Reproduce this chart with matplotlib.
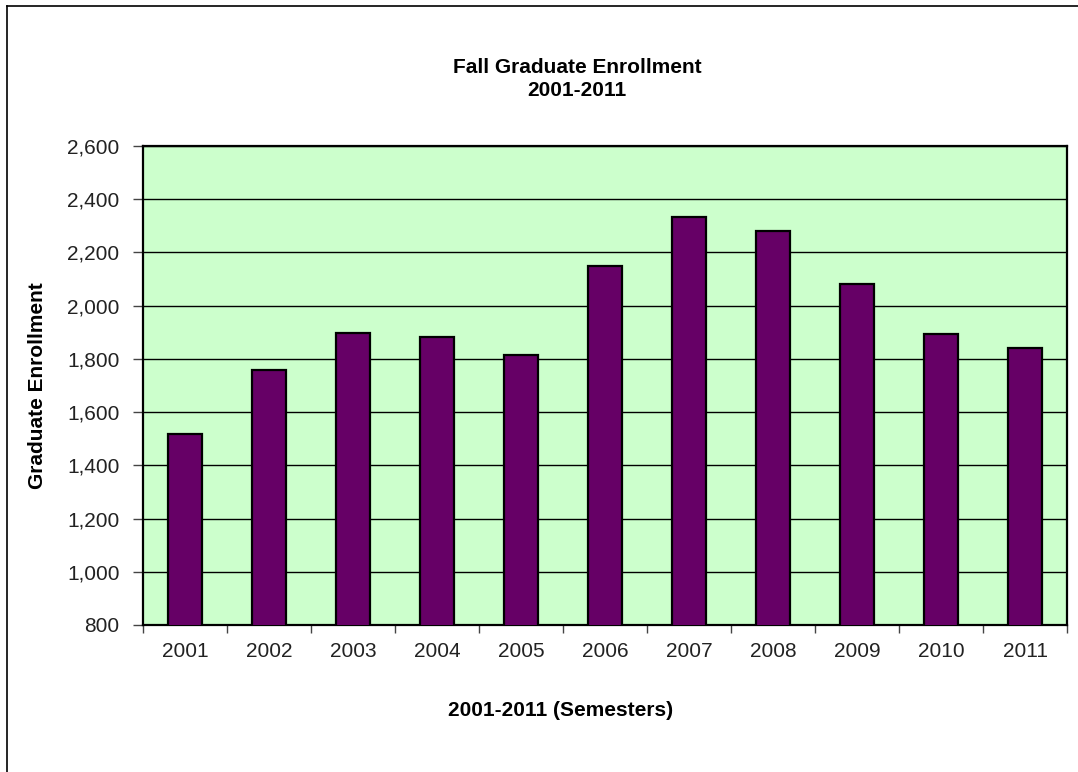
import matplotlib
matplotlib.use('Agg')
import matplotlib.pyplot as plt
from matplotlib.lines import Line2D
import numpy as np

plt.rcParams['font.family'] = ['Liberation Sans', 'DejaVu Sans']

# data
years = ['2001', '2002', '2003', '2004', '2005', '2006',
         '2007', '2008', '2009', '2010', '2011']
enrollment = [1518, 1760, 1899, 1884, 1816, 2150, 2335, 2279, 2083, 1894, 1841]
y_ticks = [800, 1000, 1200, 1400, 1600, 1800, 2000, 2200, 2400, 2600]

fs = 15

fig = plt.figure(figsize=(10.78, 7.72), dpi=100)
ax = fig.add_axes([143 / 1078, 1 - 625 / 772, 924 / 1078, 479 / 772])
ax.set_facecolor('#CCFFCC')

x = np.arange(len(years))
ax.bar(x, enrollment, width=0.4, color='#660066', edgecolor='black',
       linewidth=1.6, zorder=3)

ax.set_xlim(-0.5, len(years) - 0.5)
ax.set_ylim(800, 2600)
ax.set_yticks(y_ticks)
ax.set_yticklabels([f'{v:,}' for v in y_ticks])
ax.yaxis.grid(True, color='black', linewidth=1.0, zorder=1)
ax.set_axisbelow(True)

# ticks between categories, labels at centers
ax.set_xticks(np.arange(len(years) + 1) - 0.5)
ax.set_xticklabels([])
ax.set_xticks(x, minor=True)
ax.set_xticklabels(years, minor=True)
ax.tick_params(axis='x', which='major', length=6, width=1, color='#444444')
ax.tick_params(axis='x', which='minor', length=0, pad=12, labelsize=fs,
               labelcolor='#222222')
ax.tick_params(axis='y', length=7, width=1, color='#444444', pad=10,
               labelsize=fs, labelcolor='#222222')

for s in ax.spines.values():
    s.set_linewidth(1.6)
    s.set_color('black')

ax.set_ylabel('Graduate Enrollment', fontsize=fs, fontweight='bold',
              labelpad=14)
fig.text(561 / 1078, 1 - 711 / 772, '2001-2011 (Semesters)', ha='center',
         va='center', fontsize=fs, fontweight='bold')
fig.text(577 / 1078, 1 - 79 / 772, 'Fall Graduate Enrollment\n2001-2011',
         ha='center', va='center', fontsize=fs, fontweight='bold',
         linespacing=1.25)

# chart border (left and top edges visible)
fig.add_artist(Line2D([7 / 1078, 7 / 1078], [0, 1 - 6 / 772],
                      transform=fig.transFigure, color='black', linewidth=1.2))
fig.add_artist(Line2D([7 / 1078, 1], [1 - 6 / 772, 1 - 6 / 772],
                      transform=fig.transFigure, color='black', linewidth=1.2))

plt.savefig('out.png', dpi=100)
